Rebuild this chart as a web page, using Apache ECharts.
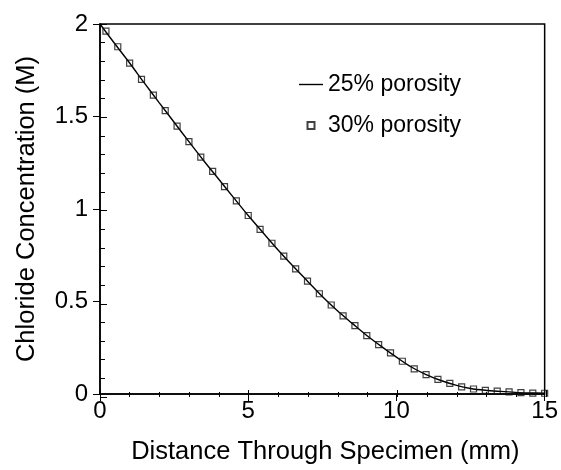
<!DOCTYPE html>
<html>
<head>
<meta charset="utf-8">
<script src="https://cdn.jsdelivr.net/npm/echarts@6/dist/echarts.min.js"></script>
<style>
  html, body { margin: 0; padding: 0; background: #fff; }
  #chart { width: 561px; height: 470px; }
</style>
</head>
<body>
<div id="chart"></div>
<script>
// Chloride profile across the specimen thickness
const lineDistance = [0, 0.5, 1, 1.5, 2, 2.5, 3, 3.5, 4, 4.5, 5, 5.5, 6, 6.5, 7, 7.5, 8, 8.5, 9, 9.5, 10, 10.5, 11, 11.5, 12, 12.5, 13, 13.5, 14, 14.5, 15];
const porosity25 = [2.000, 1.893, 1.789, 1.680, 1.574, 1.469, 1.364, 1.261, 1.162, 1.063, 0.965, 0.872, 0.780, 0.693, 0.610, 0.527, 0.451, 0.383, 0.316, 0.256, 0.199, 0.146, 0.105, 0.073, 0.048, 0.030, 0.020, 0.014, 0.009, 0.006, 0.004];

const pointDistance = [0.2, 0.6, 1.0, 1.4, 1.8, 2.2, 2.6, 3.0, 3.4, 3.8, 4.2, 4.6, 5.0, 5.4, 5.8, 6.2, 6.6, 7.0, 7.4, 7.8, 8.2, 8.6, 9.0, 9.4, 9.8, 10.2, 10.6, 11.0, 11.4, 11.8, 12.2, 12.6, 13.0, 13.4, 13.8, 14.2, 14.6, 15.0];
const porosity30 = [1.962, 1.877, 1.789, 1.701, 1.616, 1.532, 1.448, 1.364, 1.280, 1.203, 1.121, 1.044, 0.965, 0.890, 0.815, 0.745, 0.676, 0.610, 0.542, 0.481, 0.422, 0.370, 0.316, 0.267, 0.222, 0.177, 0.136, 0.105, 0.079, 0.057, 0.039, 0.027, 0.020, 0.016, 0.012, 0.007, 0.005, 0.004];

const seriesNames = ['25% porosity', '30% porosity'];
const xTitle = 'Distance Through Specimen (mm)';
const yTitle = 'Chloride Concentration (M)';

const FONT = '"Liberation Sans", Arial, sans-serif';
const gridRect = { left: 100, right: 15, top: 24, bottom: 73 };

const zip = (xs, ys) => xs.map((x, i) => [x, ys[i]]);

const chart = echarts.init(document.getElementById('chart'), null, { renderer: 'canvas' });

chart.setOption({
  animation: false,
  backgroundColor: '#fff',
  textStyle: { fontFamily: FONT, color: '#000' },
  grid: [
    Object.assign({ show: true, borderColor: '#000', borderWidth: 1.5, backgroundColor: 'transparent' }, gridRect),
    Object.assign({ show: false }, gridRect)
  ],
  legend: {
    orient: 'vertical',
    left: 294,
    top: 68,
    itemGap: 18,
    itemWidth: 24,
    itemHeight: 7,
    textStyle: { fontFamily: FONT, fontSize: 23, color: '#000', padding: [0, 0, 0, 0] },
    data: [
      { name: seriesNames[0], icon: 'path://M0,0 L24,0 L24,1.4 L0,1.4 Z' },
      { name: seriesNames[1], icon: 'path://M0,0 L10,0 L10,10 L0,10 Z' }
    ]
  },
  xAxis: [
    {
      gridIndex: 0, type: 'value', min: 0, max: 15, interval: 5,
      name: xTitle, nameLocation: 'middle', nameGap: 45,
      nameTextStyle: { fontFamily: FONT, fontSize: 25.5, color: '#000', padding: [0, 0, 0, 6] },
      axisLine: { lineStyle: { color: '#000', width: 1.5 } },
      axisTick: { inside: false, length: 7, lineStyle: { color: '#000', width: 1 } },
      axisLabel: { fontFamily: FONT, fontSize: 24, color: '#000', margin: 5 },
      splitLine: { show: false }
    },
    {
      gridIndex: 1, type: 'value', min: 0, max: 15, interval: 5,
      axisLine: { show: false },
      axisTick: { inside: true, length: 7, lineStyle: { color: '#000', width: 1 } },
      minorTick: { show: true, splitNumber: 5, length: 5, lineStyle: { color: '#000', width: 1 } },
      axisLabel: { show: false },
      splitLine: { show: false }
    }
  ],
  yAxis: [
    {
      gridIndex: 0, type: 'value', min: 0, max: 2, interval: 0.5,
      name: yTitle, nameLocation: 'middle', nameGap: 60, nameRotate: 90,
      nameTextStyle: { fontFamily: FONT, fontSize: 25.5, color: '#000' },
      axisLine: { lineStyle: { color: '#000', width: 1.5 } },
      axisTick: { inside: false, length: 7, lineStyle: { color: '#000', width: 1 } },
      axisLabel: { fontFamily: FONT, fontSize: 24, color: '#000', margin: 12 },
      splitLine: { show: false }
    },
    {
      gridIndex: 1, type: 'value', min: 0, max: 2, interval: 0.5,
      axisLine: { show: false },
      axisTick: { inside: true, length: 7, lineStyle: { color: '#000', width: 1 } },
      minorTick: { show: true, splitNumber: 5, length: 5, lineStyle: { color: '#000', width: 1 } },
      axisLabel: { show: false },
      splitLine: { show: false }
    }
  ],
  series: [
    {
      name: seriesNames[0],
      type: 'line',
      xAxisIndex: 0, yAxisIndex: 0,
      data: zip(lineDistance, porosity25),
      smooth: 0.3,
      symbol: 'none',
      lineStyle: { color: '#000', width: 1.4 },
      itemStyle: { color: '#000' },
      z: 3
    },
    {
      name: seriesNames[1],
      type: 'scatter',
      xAxisIndex: 0, yAxisIndex: 0,
      data: zip(pointDistance, porosity30),
      symbol: 'rect',
      symbolSize: 6,
      itemStyle: { color: 'rgba(255,255,255,0)', borderColor: '#111', borderWidth: 1.2 },
      z: 4
    }
  ]
});
</script>
</body>
</html>
